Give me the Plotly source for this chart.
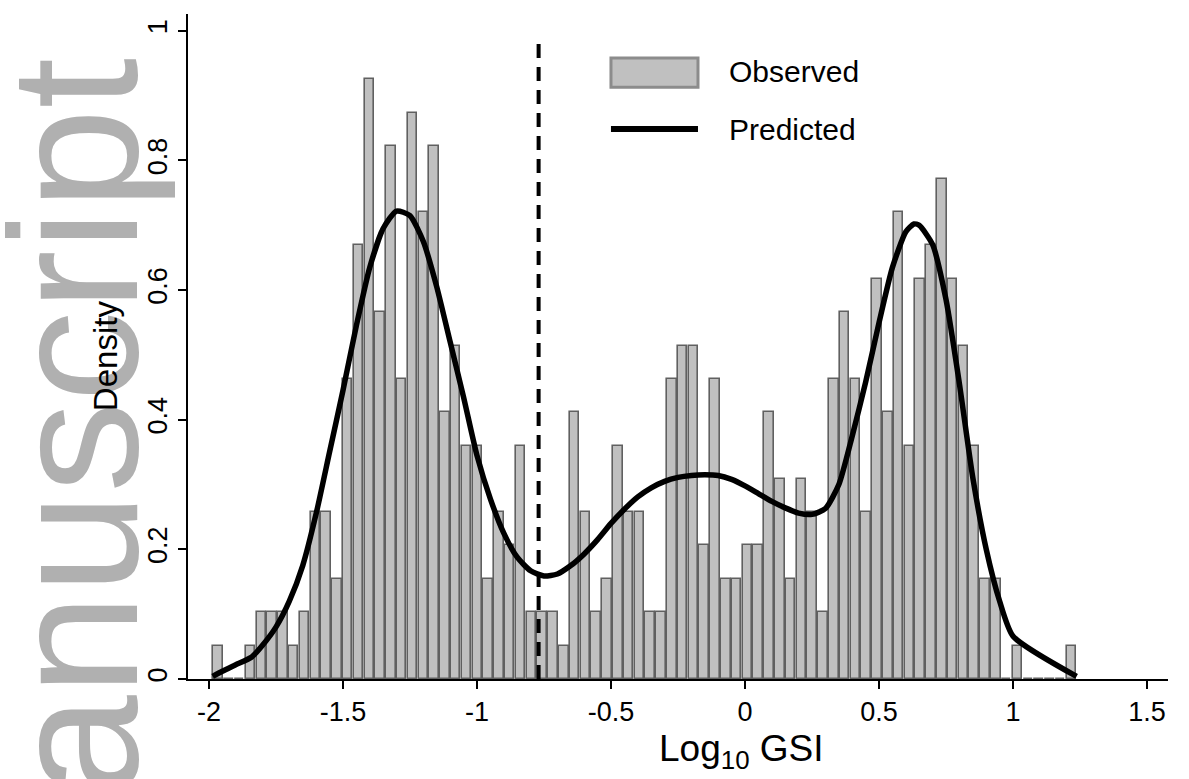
import plotly.graph_objects as go

# ---- data ----
bin_start = -1.986      # left edge of first bin (Log10 GSI)
bin_width = 0.0403      # histogram bin width
density = [
    0.051, 0.0, 0.0, 0.051, 0.103, 0.103, 0.103, 0.051, 0.103, 0.257,
    0.257, 0.154, 0.463, 0.669, 0.926, 0.566, 0.823, 0.463, 0.874, 0.720,
    0.823, 0.412, 0.514, 0.360, 0.360, 0.154, 0.257, 0.206, 0.360, 0.103,
    0.103, 0.103, 0.051, 0.412, 0.257, 0.103, 0.154, 0.360, 0.257, 0.257,
    0.103, 0.103, 0.463, 0.514, 0.514, 0.206, 0.463, 0.154, 0.154, 0.206,
    0.206, 0.412, 0.309, 0.154, 0.309, 0.257, 0.103, 0.463, 0.566, 0.463,
    0.257, 0.617, 0.412, 0.720, 0.360, 0.617, 0.669, 0.772, 0.617, 0.514,
    0.360, 0.154, 0.154, 0.0, 0.051, 0.0, 0.0, 0.0, 0.0, 0.051,
]

curve_x = [-1.986, -1.95, -1.90, -1.84, -1.80, -1.75, -1.70, -1.65, -1.60, -1.55,
           -1.50, -1.45, -1.40, -1.35, -1.30, -1.25, -1.20, -1.15, -1.10, -1.05,
           -1.00, -0.95, -0.90, -0.85, -0.80, -0.75, -0.70, -0.65, -0.60, -0.55,
           -0.50, -0.45, -0.40, -0.35, -0.30, -0.25, -0.20, -0.15, -0.10, -0.05,
           0.00, 0.05, 0.10, 0.15, 0.20, 0.25, 0.30, 0.35, 0.40, 0.45,
           0.50, 0.55, 0.60, 0.63, 0.65, 0.70, 0.75, 0.80, 0.85, 0.90,
           0.95, 1.00, 1.237]
curve_y = [0.004, 0.012, 0.022, 0.034, 0.052, 0.080, 0.120, 0.175, 0.255, 0.350,
           0.445, 0.545, 0.635, 0.695, 0.722, 0.715, 0.675, 0.605, 0.520, 0.435,
           0.345, 0.278, 0.225, 0.188, 0.167, 0.159, 0.162, 0.175, 0.193, 0.215,
           0.240, 0.262, 0.281, 0.295, 0.305, 0.311, 0.314, 0.315, 0.314, 0.308,
           0.298, 0.286, 0.274, 0.264, 0.256, 0.254, 0.263, 0.300, 0.375, 0.458,
           0.550, 0.635, 0.690, 0.702, 0.700, 0.670, 0.585, 0.455, 0.310, 0.200,
           0.120, 0.066, 0.004]

cutoff_x = -0.77        # dashed vertical line
cutoff_top = 0.99

x_tickvals = [-2, -1.5, -1, -0.5, 0, 0.5, 1, 1.5]
x_ticktext = ["-2", "-1.5", "-1", "-0.5", "0", "0.5", "1", "1.5"]
y_tickvals = [0, 0.2, 0.4, 0.6, 0.8, 1]
y_ticktext = ["0", "0.2", "0.4", "0.6", "0.8", "1"]

series_names = ["Observed", "Predicted"]
x_title = "Log<sub>10</sub> GSI"
y_title = "Density"
watermark = "Manuscript"

# ---- figure ----
centers = [bin_start + bin_width * (i + 0.5) for i in range(len(density))]
FONT = "Liberation Sans, Arial, Helvetica, sans-serif"
BAR_FILL = "#c0c0c0"
BAR_LINE = "#606060"

fig = go.Figure()

# watermark (behind everything)
fig.add_annotation(text=watermark, xref="paper", yref="paper",
                   x=-0.117, y=0.265, xanchor="center", yanchor="middle",
                   textangle=-90, showarrow=False,
                   font=dict(family=FONT, size=182, color="#b0b0b0"))

fig.add_trace(go.Bar(
    x=centers, y=density, width=bin_width * 0.88,
    marker=dict(color=BAR_FILL, line=dict(color=BAR_LINE, width=1.6)),
    name=series_names[0], showlegend=False,
))
fig.add_trace(go.Scatter(
    x=curve_x, y=curve_y, mode="lines",
    line=dict(color="black", width=5.5, shape="spline", smoothing=0.6),
    name=series_names[1], showlegend=False,
))
fig.add_trace(go.Scatter(
    x=[cutoff_x, cutoff_x], y=[0, cutoff_top], mode="lines",
    line=dict(color="black", width=4, dash="14px,9px"),
    showlegend=False, hoverinfo="skip",
))

# manual legend (paper coordinates)
fig.add_shape(type="rect", xref="paper", yref="paper",
              x0=0.4316, x1=0.5204, y0=0.890, y1=0.934,
              fillcolor=BAR_FILL, line=dict(color="#8c8c8c", width=3))
fig.add_shape(type="line", xref="paper", yref="paper",
              x0=0.4316, x1=0.5204, y0=0.827, y1=0.827,
              line=dict(color="black", width=6))
fig.add_annotation(text=series_names[0], xref="paper", yref="paper",
                   x=0.55, y=0.913, xanchor="left", yanchor="middle",
                   showarrow=False, font=dict(family=FONT, size=30, color="black"))
fig.add_annotation(text=series_names[1], xref="paper", yref="paper",
                   x=0.55, y=0.827, xanchor="left", yanchor="middle",
                   showarrow=False, font=dict(family=FONT, size=30, color="black"))

# axis titles
fig.add_annotation(text=x_title, xref="paper", yref="paper",
                   x=0.565, y=-0.108, xanchor="center", yanchor="middle",
                   showarrow=False, font=dict(family=FONT, size=37, color="black"))
fig.add_annotation(text=y_title, xref="paper", yref="paper",
                   x=-0.0847, y=0.487, xanchor="center", yanchor="middle",
                   textangle=-90, showarrow=False,
                   font=dict(family=FONT, size=33, color="black"))

axis_common = dict(showline=True, linecolor="black", linewidth=1.5,
                   ticks="outside", ticklen=8, tickwidth=1.5, tickcolor="black",
                   showgrid=False, zeroline=False,
                   tickfont=dict(family=FONT, size=27, color="black"))
fig.update_xaxes(range=[-2.078, 1.578], tickvals=x_tickvals, ticktext=x_ticktext,
                 **axis_common)
fig.update_yaxes(range=[0, 1.026], tickvals=y_tickvals, ticktext=y_ticktext,
                 tickangle=-90, **axis_common)

fig.update_layout(
    width=1189, height=779,
    margin=dict(l=188, r=21, t=14, b=100, autoexpand=False),
    plot_bgcolor="white", paper_bgcolor="white",
    bargap=0, showlegend=False,
    font=dict(family=FONT, color="black"),
)

fig.write_html("out.html")
